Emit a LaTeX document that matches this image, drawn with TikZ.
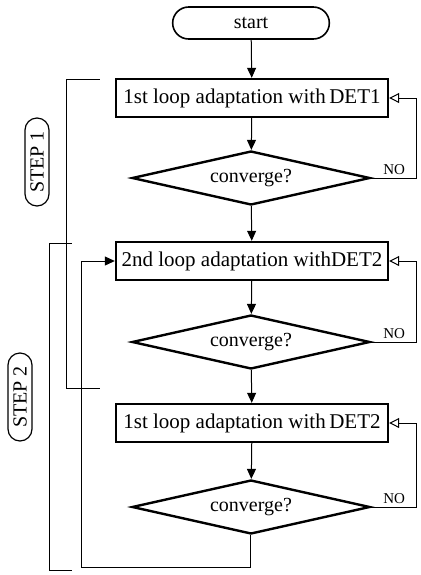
\documentclass[tikz,border=0pt]{standalone}
\usepackage{fontspec}
\setmainfont{Liberation Serif}
\usetikzlibrary{arrows.meta,shapes.geometric,shapes.misc}

\begin{document}
\begin{tikzpicture}[x=0.5pt,y=-0.5pt,line width=0.5pt,
  loop box/.style={rectangle,draw,line width=1.2pt,minimum width=136pt,minimum height=19pt,inner sep=0pt,font=\fontsize{10.5}{12}\selectfont},
  test node/.style={diamond,draw,line width=1.2pt,aspect=4.5,minimum width=119pt,minimum height=27pt,inner sep=0pt,font=\fontsize{10}{12}\selectfont},
  step label/.style={rounded rectangle,draw,line width=0.6pt,rotate=90,minimum width=46pt,minimum height=12pt,inner sep=1pt,font=\fontsize{10}{12}\selectfont}]
\tikzstyle{flow} = [draw,-{Triangle[length=5pt,width=4.5pt]}]
\tikzstyle{back} = [draw,-{Triangle[open,length=5pt,width=5pt]}]
\tikzstyle{no label} = [above,inner sep=1.5pt,font=\fontsize{7.5}{9}\selectfont]
\useasboundingbox (0,0) rectangle (420,575);

\coordinate (rail) at (417,0);
\coordinate (loopbot) at (82,567);

% Nodes
\node[rounded rectangle,draw,line width=0.8pt,minimum width=85pt,minimum height=16pt,font=\fontsize{10}{12}\selectfont] (start) at (251,23) {start};
\node[loop box] (loopA) at (252,98) {1st loop adaptation with\,DET1};
\node[test node] (convA) at (251,178) {converge?};
\node[loop box] (loopB) at (252,261) {2nd loop adaptation withDET2};
\node[test node] (convB) at (251,342) {converge?};
\node[loop box] (loopC) at (252,423) {1st loop adaptation with\,DET2};
\node[test node] (convC) at (251,507) {converge?};

% Draw main flow
\draw[flow] (start) -- (loopA);
\draw[flow] (loopA) -- (convA);
\draw[flow] (convA) -- (loopB);
\draw[flow] (loopB) -- (convB);
\draw[flow] (convB) -- (loopC);
\draw[flow] (loopC) -- (convC);

% Draw NO branches
\draw[back] (convA.east) -- node[no label] {NO} (convA.east -| rail) -- (loopA.east -| rail) -- (loopA.east);
\draw[back] (convB.east) -- node[no label] {NO} (convB.east -| rail) -- (loopB.east -| rail) -- (loopB.east);
\draw[back] (convC.east) -- node[no label] {NO} (convC.east -| rail) -- (loopC.east -| rail) -- (loopC.east);

% Draw loop back to step 2
\draw[flow] (convC.south) -- (convC.south |- loopbot) -- (loopbot) -- (loopbot |- loopB.west) -- (loopB.west);

% Brackets
\draw[line width=0.4pt] (100,79) -- (66,79) -- (66,388) -- (100,388);
\draw[line width=0.4pt] (72,243) -- (49,243) -- (49,570) -- (72,570);
\node[step label] (stepA) at (37,162) {STEP 1};
\node[step label] (stepB) at (20,397) {STEP 2};

\end{tikzpicture}
\end{document}
